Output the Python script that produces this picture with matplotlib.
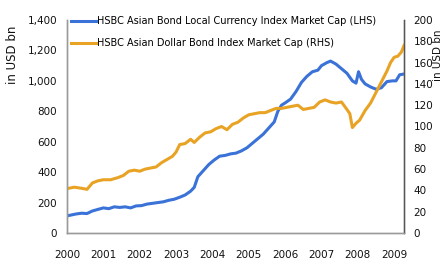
import matplotlib
matplotlib.use("Agg")
import matplotlib.pyplot as plt

# HSBC Asian Bond Local Currency Index Market Cap (LHS), USD bn
local_t = [2000.05, 2000.25, 2000.4, 2000.55, 2000.7, 2000.85, 2001.0, 2001.15, 2001.3, 2001.45,
           2001.6, 2001.75, 2001.9, 2002.05, 2002.2, 2002.35, 2002.5, 2002.65, 2002.8, 2002.95,
           2003.1, 2003.25, 2003.4, 2003.5, 2003.6, 2003.75, 2003.9, 2004.05, 2004.2, 2004.35,
           2004.5, 2004.65, 2004.8, 2004.95, 2005.1, 2005.25, 2005.4, 2005.55, 2005.7, 2005.8,
           2005.9, 2006.0, 2006.15, 2006.3, 2006.45, 2006.6, 2006.75, 2006.9, 2007.0, 2007.15,
           2007.25, 2007.4, 2007.55, 2007.7, 2007.85, 2007.95, 2008.02, 2008.1, 2008.2, 2008.35,
           2008.5, 2008.65, 2008.8, 2008.95, 2009.05, 2009.15, 2009.27]
local_v = [115, 125, 130, 128, 145, 155, 165, 160, 172, 168,
           172, 165, 178, 180, 190, 195, 200, 205, 215, 222,
           235, 250, 275, 300, 370, 410, 450, 480, 505, 510,
           520, 525, 540, 560, 590, 620, 650, 690, 730, 800,
           840, 855, 880, 930, 990, 1030, 1060, 1070, 1100, 1120,
           1130, 1110, 1080, 1050, 1000, 985, 1060, 1010, 980, 960,
           945, 955, 995, 1000, 1000, 1040, 1045]

# HSBC Asian Dollar Bond Index Market Cap (RHS), USD bn
dollar_t = [2000.05, 2000.2, 2000.4, 2000.55, 2000.7, 2000.85, 2001.0, 2001.2, 2001.4, 2001.55,
            2001.7, 2001.85, 2002.0, 2002.15, 2002.3, 2002.45, 2002.6, 2002.75, 2002.9, 2003.0,
            2003.1, 2003.25, 2003.4, 2003.5, 2003.65, 2003.8, 2003.95, 2004.1, 2004.25, 2004.4,
            2004.55, 2004.7, 2004.85, 2005.0, 2005.15, 2005.3, 2005.45, 2005.6, 2005.75, 2005.9,
            2006.05, 2006.2, 2006.35, 2006.5, 2006.65, 2006.8, 2006.95, 2007.1, 2007.25, 2007.4,
            2007.55, 2007.7, 2007.78, 2007.85, 2007.95, 2008.05, 2008.2, 2008.35, 2008.5, 2008.65,
            2008.8, 2008.9, 2009.0, 2009.1, 2009.2, 2009.27]
dollar_v = [42, 43, 42, 41, 47, 49, 50, 50, 52, 54,
            58, 59, 58, 60, 61, 62, 66, 69, 72, 76,
            83, 84, 88, 85, 90, 94, 95, 98, 100, 97,
            102, 104, 108, 111, 112, 113, 113, 115, 117, 117,
            118, 119, 120, 116, 117, 118, 123, 125, 123, 122,
            123, 116, 112, 99, 103, 106, 115, 122, 132, 142,
            152, 160, 165, 166, 170, 176]

years = list(range(2000, 2010))
left_ticks = [0, 200, 400, 600, 800, 1000, 1200, 1400]
right_ticks = [0, 20, 40, 60, 80, 100, 120, 140, 160, 180, 200]

blue = "#3a72d8"
orange = "#e9a324"
spine_c = "#9a9a9a"

fig = plt.figure(figsize=(4.45, 2.64), dpi=100)
ax = fig.add_axes([67 / 445, 31 / 264, 337 / 445, 213 / 264])
ax2 = ax.twinx()

l1, = ax.plot(local_t, local_v, color=blue, lw=2.2,
              label="HSBC Asian Bond Local Currency Index Market Cap (LHS)")
l2, = ax2.plot(dollar_t, dollar_v, color=orange, lw=2.2,
               label="HSBC Asian Dollar Bond Index Market Cap (RHS)")

ax.set_xlim(2000.05, 2009.27)
ax.set_ylim(0, 1400)
ax2.set_ylim(0, 200)
ax.set_xticks(years)
ax.set_xticklabels([str(y) for y in years])
ax.set_yticks(left_ticks)
ax.set_yticklabels([f"{v:,}" for v in left_ticks])
ax2.set_yticks(right_ticks)

for a in (ax, ax2):
    a.spines["top"].set_visible(False)
    for s in ("left", "bottom", "right"):
        a.spines[s].set_color(spine_c)
        a.spines[s].set_linewidth(1.0)
ax2.spines["right"].set_color("#555555")

ax.tick_params(axis="x", length=0, pad=12, labelsize=7.5, colors="#111111")
ax.tick_params(axis="y", length=0, pad=7, labelsize=7.5, colors="#111111")
ax2.tick_params(axis="y", length=0, pad=7, labelsize=7.5, colors="#111111")

fig.text(13 / 445, 1 - 55 / 264, "in USD bn", rotation=90, ha="center", va="center",
         fontsize=8.5, color="#111111")
fig.text(438 / 445, 1 - 55 / 264, "in USD bn", rotation=90, ha="center", va="center",
         fontsize=7.5, color="#111111")

ax.legend(handles=[l1, l2], loc="upper left", bbox_to_anchor=(-0.005, 1.045), frameon=False,
          fontsize=7, handlelength=2.6, handletextpad=0.1, labelspacing=1.2,
          borderaxespad=0.2)

fig.savefig("out.png", dpi=100)
